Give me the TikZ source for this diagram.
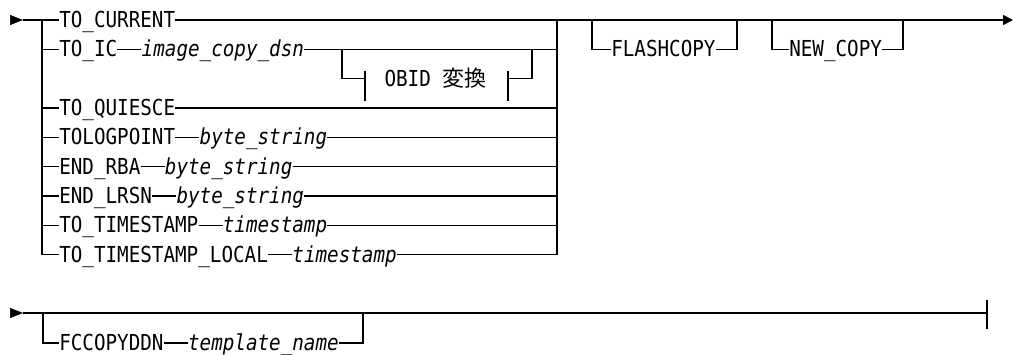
\documentclass[tikz,border=0pt]{standalone}
\usepackage{fontspec}
\usepackage{tikz}
\usetikzlibrary{positioning, arrows.meta}
\newfontfamily\railfont[FakeStretch=0.875]{DejaVu Sans Mono}
\newfontfamily\cjk{Noto Sans CJK JP}
\tikzset{
  rail/.style={line width=1.15pt, line join=miter},
  kw/.style={font=\railfont\fontsize{16.5}{16.5}\selectfont, inner sep=0pt, text height=11.4pt, text depth=0pt, anchor=west},
  var/.style={kw, font=\railfont\fontsize{16.5}{16.5}\selectfont\itshape},
  starttip/.style={-{Triangle[length=9.75pt, width=7.5pt]}},
}

\begin{document}
\begin{tikzpicture}[x=0.75pt, y=-0.75pt, node distance=18pt]
  \useasboundingbox (0,0) rectangle (1015,354);
  \coordinate (in0) at (10,20);
  \coordinate (in1) at (23,20);
  \coordinate (j1) at (42,20);
  \coordinate (k1) at (557,20);
  \coordinate (out1) at (1013,20);

  % recovery point choices
  \node[kw] (cur) at (59,20) {TO\_CURRENT};
  \node[kw] (ic) at (59,49.3) {TO\_IC};
  \node[var, right=of ic] (icdsn) {image\_copy\_dsn};
  \node[kw] (qui) at (59,108) {TO\_QUIESCE};
  \node[kw] (logp) at (59,137.3) {TOLOGPOINT};
  \node[var, right=of logp] (logpv) {byte\_string};
  \node[kw] (rba) at (59,166.6) {END\_RBA};
  \node[var, right=of rba] (rbav) {byte\_string};
  \node[kw] (lrsn) at (59,196) {END\_LRSN};
  \node[var, right=of lrsn] (lrsnv) {byte\_string};
  \node[kw] (ts) at (59,225.3) {TO\_TIMESTAMP};
  \node[var, right=of ts] (tsv) {timestamp};
  \node[kw] (tsl) at (59,254.6) {TO\_TIMESTAMP\_LOCAL};
  \node[var, right=of tsl] (tslv) {timestamp};

  \draw[starttip] (in0) -- (in1);
  \draw[rail] (in1) -- (cur.west);
  \draw[rail] (j1) |- (tsl.west);
  \foreach \n in {ic, qui, logp, rba, lrsn, ts}
    \draw[rail] (j1 |- \n.west) -- (\n.west);
  \draw[rail] (ic.east) -- (icdsn.west);
  \draw[rail] (logp.east) -- (logpv.west);
  \draw[rail] (rba.east) -- (rbav.west);
  \draw[rail] (lrsn.east) -- (lrsnv.west);
  \draw[rail] (ts.east) -- (tsv.west);
  \draw[rail] (tsl.east) -- (tslv.west);
  \draw[rail] (tslv.east) -| (k1);
  \foreach \n in {icdsn, qui, logpv, rbav, lrsnv, tsv}
    \draw[rail] (\n.east) -- (\n.east -| k1);
  \draw[rail, -{Triangle[length=7.5pt, width=7.5pt]}] (cur.east) -- (out1);

  % optional fragment under TO_IC
  \coordinate (o1) at (342,49.3);
  \coordinate (o2) at (532,49.3);
  \coordinate (t1) at (365,78.6);
  \coordinate (t2) at (508,78.6);
  \node[kw, anchor=center] (obid) at (435.5,78.6) {OBID {\cjk 変換}};
  \draw[rail] (o1) |- (t1);
  \draw[rail] ([yshift=6pt]t1) -- ([yshift=-16.5pt]t1);
  \draw[rail] ([yshift=6pt]t2) -- ([yshift=-16.5pt]t2);
  \draw[rail] (t2) -| (o2);

  % FLASHCOPY and NEW_COPY
  \coordinate (f1) at (592,20);
  \coordinate (f2) at (737,20);
  \node[kw] (flash) at (611,49.3) {FLASHCOPY};
  \draw[rail] (f1) |- (flash.west);
  \draw[rail] (flash.east) -| (f2);
  \coordinate (n1) at (772,20);
  \coordinate (n2) at (903,20);
  \node[kw] (newc) at (789,49.3) {NEW\_COPY};
  \draw[rail] (n1) |- (newc.west);
  \draw[rail] (newc.east) -| (n2);

  % second line
  \coordinate (in2) at (10,313);
  \coordinate (in3) at (23,313);
  \coordinate (b1) at (43,313);
  \coordinate (b2) at (363,313);
  \coordinate (end2) at (987,313);
  \node[kw] (fcc) at (59,343) {FCCOPYDDN};
  \node[var, right=of fcc] (tpl) {template\_name};
  \draw[starttip] (in2) -- (in3);
  \draw[rail] (in3) -- (end2);
  \draw[rail] ([yshift=9.75pt]end2) -- ([yshift=-12pt]end2);
  \draw[rail] (b1) |- (fcc.west);
  \draw[rail] (fcc.east) -- (tpl.west);
  \draw[rail] (tpl.east) -| (b2);
\end{tikzpicture}
\end{document}
